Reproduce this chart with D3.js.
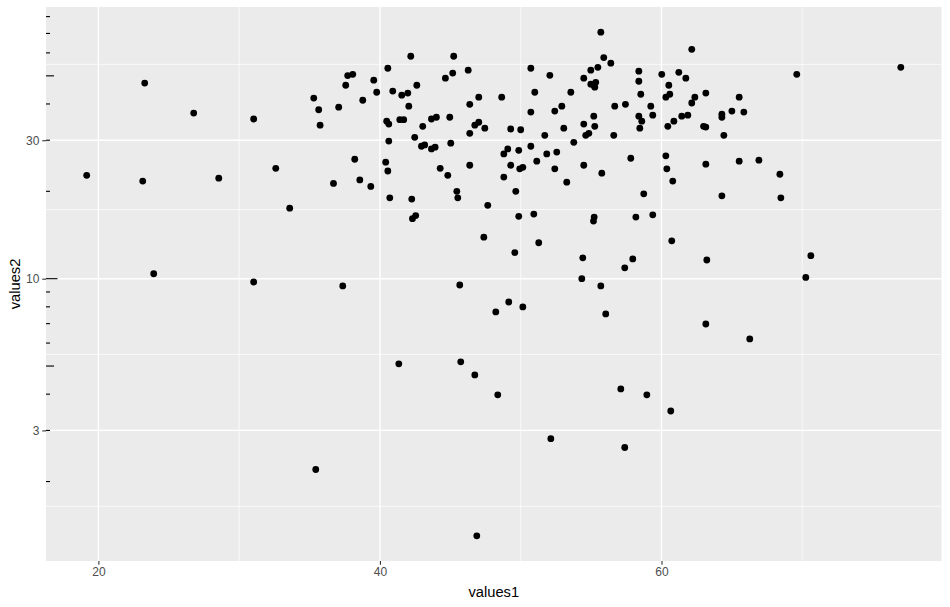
<!DOCTYPE html>
<html>
<head>
<meta charset="utf-8">
<script src="https://cdn.jsdelivr.net/npm/d3@7"></script>
<style>
  body { margin: 0; background: #fff; }
  svg { display: block; font-family: "Liberation Sans", Arial, sans-serif; }
</style>
</head>
<body>
<div id="chart"></div>
<script>
// values
const values1 = [
  19.17, 23.29, 23.15, 26.77, 28.55, 31.03, 32.60, 35.30, 35.65, 35.75,
  36.70, 37.07, 37.57, 37.71, 38.07, 38.21, 38.57, 38.78, 39.35, 39.56,
  39.77, 40.56, 40.48, 40.63, 40.63, 40.41, 40.56, 40.70, 40.91, 41.55,
  41.98, 42.05, 41.41, 41.69, 42.19, 42.62, 42.47, 43.04, 42.95, 43.18,
  43.66, 44.01, 43.66, 43.92, 44.28, 42.26, 44.65, 45.17, 45.24, 44.96,
  45.03, 44.82, 45.46, 45.53, 46.27, 46.38, 47.02, 46.38, 46.74, 47.02,
  47.45, 46.38, 48.65, 48.80, 49.08, 48.80, 49.29, 49.29, 49.65, 49.86,
  50.00, 49.93, 50.15, 50.72, 50.72, 50.72, 51.00, 51.14, 51.71, 51.85,
  52.07, 52.42, 52.42, 52.56, 52.92, 53.06, 53.27, 53.56, 53.77, 54.48,
  54.48, 54.48, 54.62, 54.84, 54.98, 54.98, 55.19, 55.33, 55.26, 55.19,
  55.26, 55.48, 55.69, 55.90, 55.76, 56.40, 56.61, 56.68, 57.44, 57.82,
  58.39, 58.39, 58.53, 58.39, 58.60, 58.46, 58.74, 59.24, 59.38, 60.02,
  60.52, 60.31, 60.59, 60.45, 60.88, 60.31, 60.38, 60.80, 61.23, 61.73,
  62.15, 62.37, 62.15, 61.44, 61.87, 62.99, 63.15, 63.15, 63.15, 64.29,
  64.29, 64.43, 64.29, 65.00, 65.52, 65.85, 65.52, 66.92, 68.41, 68.48,
  69.61, 77.00, 33.59, 23.93, 31.03, 47.66, 42.31, 42.54, 49.86, 50.93,
  47.38, 51.28, 49.58, 55.22, 55.17, 58.18, 54.41, 57.96, 57.39, 54.34,
  37.36, 45.67, 55.69, 49.15, 48.23, 50.15, 56.04, 41.34, 45.74, 46.74,
  59.38, 60.73, 63.22, 70.61, 70.25, 63.15, 66.27, 35.44, 48.37, 57.11,
  52.14, 57.39, 46.88, 58.96, 60.66
];
const values2 = [
  22.7, 47.2, 21.7, 37.2, 22.2, 35.5, 24.0, 41.9, 38.2, 33.8,
  21.3, 39.0, 46.4, 50.1, 50.6, 25.8, 21.9, 41.2, 20.8, 48.3,
  43.9, 53.1, 34.9, 34.1, 29.8, 25.2, 23.5, 19.0, 44.3, 42.9,
  43.6, 39.3, 35.3, 35.3, 58.4, 46.4, 30.7, 33.5, 28.6, 28.9,
  35.5, 36.0, 28.0, 28.4, 24.0, 18.8, 49.1, 51.1, 58.4, 36.0,
  29.3, 22.7, 20.0, 19.0, 52.3, 39.9, 42.2, 31.7, 33.8, 34.6,
  33.0, 24.6, 42.2, 26.9, 28.0, 22.4, 32.8, 24.6, 20.0, 27.7,
  32.6, 23.9, 24.2, 53.1, 37.5, 28.6, 43.9, 25.4, 31.2, 26.9,
  50.2, 37.8, 23.9, 27.3, 39.3, 33.0, 21.5, 43.9, 29.5, 49.1,
  34.1, 24.6, 31.2, 31.7, 52.3, 46.8, 46.4, 47.5, 45.7, 36.3,
  33.5, 53.5, 70.7, 57.8, 23.1, 55.3, 31.2, 39.3, 39.9, 26.0,
  51.9, 47.9, 43.2, 36.3, 34.9, 33.0, 19.6, 39.3, 36.6, 50.6,
  46.4, 42.2, 43.2, 33.5, 34.9, 26.5, 23.9, 21.7, 51.4, 49.1,
  61.7, 42.2, 40.3, 36.3, 36.6, 33.5, 33.3, 43.6, 24.8, 36.9,
  36.0, 31.2, 19.3, 37.8, 42.2, 37.5, 25.4, 25.6, 22.9, 19.0,
  50.6, 53.5, 17.5, 10.4, 9.74, 17.9, 16.1, 16.5, 16.4, 16.7,
  13.9, 13.3, 12.3, 16.3, 15.8, 16.3, 11.8, 11.7, 10.9, 10.0,
  9.44, 9.51, 9.44, 8.31, 7.68, 7.99, 7.56, 5.09, 5.17, 4.66,
  16.6, 13.5, 11.6, 12.0, 10.1, 6.98, 6.20, 2.20, 3.98, 4.17,
  2.81, 2.62, 1.30, 3.98, 3.50
];
const xBreaks = [20, 40, 60];
const yBreaks = [3, 10, 30];

const width = 950, height = 607;
const margin = { top: 7, right: 8.5, bottom: 46, left: 46 };
const innerW = width - margin.left - margin.right;
const innerH = height - margin.top - margin.bottom;

const data = values1.map((v, i) => ({ x: v, y: values2[i] }));

// ggplot style 5% expansion (in log space for y)
const xExt = d3.extent(values1);
const xPad = (xExt[1] - xExt[0]) * 0.05;
const lyExt = d3.extent(values2).map(Math.log10);
const lyPad = (lyExt[1] - lyExt[0]) * 0.05;

const x = d3.scaleLinear()
  .domain([xExt[0] - xPad, xExt[1] + xPad])
  .range([0, innerW]);
const y = d3.scaleLog()
  .domain([Math.pow(10, lyExt[0] - lyPad), Math.pow(10, lyExt[1] + lyPad)])
  .range([innerH, 0]);

// minor breaks halfway between majors, like ggplot does
function minorBreaks(b, lim) {
  const bd = b[1] - b[0];
  const bb = b.slice();
  if (lim[0] < bb[0]) bb.unshift(bb[0] - bd);
  if (lim[1] > bb[bb.length - 1]) bb.push(bb[bb.length - 1] + bd);
  const out = [];
  for (let i = 0; i < bb.length - 1; i++) out.push((bb[i] + bb[i + 1]) / 2);
  return out.filter(v => v >= lim[0] && v <= lim[1]);
}
const xMinor = minorBreaks(xBreaks, x.domain());
const yMinor = minorBreaks(yBreaks.map(Math.log10), y.domain().map(Math.log10))
  .map(v => Math.pow(10, v));

const svg = d3.select("#chart").append("svg")
  .attr("width", width)
  .attr("height", height);

const g = svg.append("g")
  .attr("transform", `translate(${margin.left},${margin.top})`);

g.append("rect")
  .attr("width", innerW)
  .attr("height", innerH)
  .attr("fill", "#EBEBEB");

// grid
g.append("g").selectAll("line").data(xMinor).join("line")
  .attr("x1", d => x(d)).attr("x2", d => x(d))
  .attr("y1", 0).attr("y2", innerH)
  .attr("stroke", "#fff").attr("stroke-width", 0.7);
g.append("g").selectAll("line").data(yMinor).join("line")
  .attr("y1", d => y(d)).attr("y2", d => y(d))
  .attr("x1", 0).attr("x2", innerW)
  .attr("stroke", "#fff").attr("stroke-width", 0.7);
g.append("g").selectAll("line").data(xBreaks).join("line")
  .attr("x1", d => x(d)).attr("x2", d => x(d))
  .attr("y1", 0).attr("y2", innerH)
  .attr("stroke", "#fff").attr("stroke-width", 1.4);
g.append("g").selectAll("line").data(yBreaks).join("line")
  .attr("y1", d => y(d)).attr("y2", d => y(d))
  .attr("x1", 0).attr("x2", innerW)
  .attr("stroke", "#fff").attr("stroke-width", 1.4);

// points
g.append("g").selectAll("circle").data(data).join("circle")
  .attr("cx", d => x(d.x))
  .attr("cy", d => y(d.y))
  .attr("r", 3.4)
  .attr("fill", "#000");

// log ticks on the left side of the panel
const logTicks = [];
for (let k = -1; k <= 2; k++) {
  for (let m = 1; m <= 9; m++) {
    const v = m * Math.pow(10, k);
    if (v >= y.domain()[0] && v <= y.domain()[1]) logTicks.push({ v, m });
  }
}
g.append("g").selectAll("line").data(logTicks).join("line")
  .attr("x1", 0)
  .attr("x2", d => d.m === 1 ? 11.5 : d.m === 5 ? 8 : 4)
  .attr("y1", d => y(d.v)).attr("y2", d => y(d.v))
  .attr("stroke", "#000").attr("stroke-width", 1.1);

// axes
const xAxis = g.append("g")
  .attr("transform", `translate(0,${innerH})`)
  .call(d3.axisBottom(x).tickValues(xBreaks).tickSize(3.7).tickPadding(3).tickFormat(d3.format("d")));
const yAxis = g.append("g")
  .call(d3.axisLeft(y).tickValues(yBreaks).tickSize(3.7).tickPadding(3).tickFormat(d3.format("d")));
[xAxis, yAxis].forEach(a => {
  a.select(".domain").remove();
  a.selectAll(".tick line").attr("stroke", "#333").attr("stroke-width", 1.1);
  a.selectAll(".tick text")
    .attr("fill", "#4D4D4D")
    .style("font-size", "12px")
    .style("font-family", "'Liberation Sans', Arial, sans-serif");
});

// titles
svg.append("text")
  .attr("x", margin.left + innerW / 2)
  .attr("y", 597)
  .attr("text-anchor", "middle")
  .style("font-size", "14.7px")
  .attr("fill", "#000")
  .text("values1");
svg.append("text")
  .attr("transform", `translate(19.5,${margin.top + innerH / 2}) rotate(-90)`)
  .attr("text-anchor", "middle")
  .style("font-size", "14.7px")
  .attr("fill", "#000")
  .text("values2");
</script>
</body>
</html>
